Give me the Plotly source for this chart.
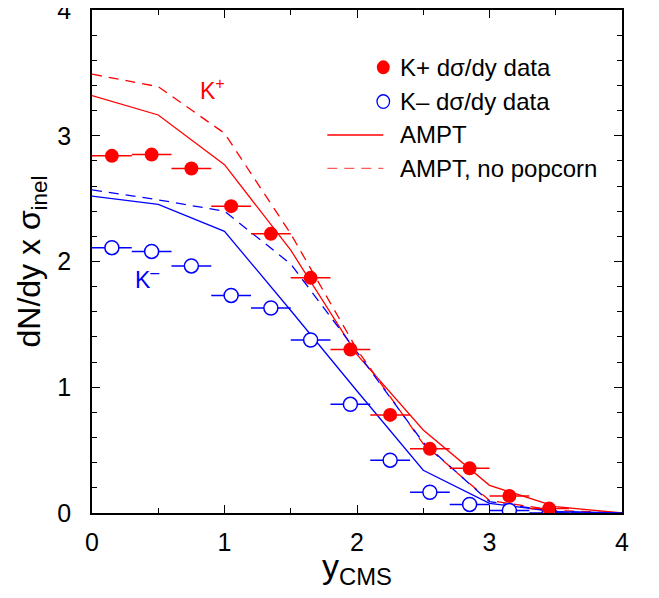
import plotly.graph_objects as go

# ---- data ----
y_bins = [0.15, 0.45, 0.75, 1.05, 1.35, 1.65, 1.95, 2.25, 2.55, 2.85, 3.15, 3.45]
bin_halfwidth = [0.15] * 12
kplus_data = [2.84, 2.85, 2.74, 2.44, 2.22, 1.87, 1.30, 0.78, 0.51, 0.355, 0.135, 0.035]
kminus_data = [2.11, 2.08, 1.965, 1.73, 1.63, 1.376, 0.864, 0.42, 0.165, 0.068, 0.02, 0.0]

y_model = [0.0, 0.5, 1.0, 1.5, 2.0, 2.5, 3.0, 3.5, 4.0]
ampt_kplus = [3.32, 3.165, 2.77, 2.09, 1.26, 0.66, 0.22, 0.05, 0.0]
ampt_nopop_kplus = [3.49, 3.39, 3.02, 2.22, 1.30, 0.55, 0.10, 0.02, 0.0]
ampt_kminus = [2.52, 2.455, 2.24, 1.61, 0.97, 0.34, 0.077, 0.01, 0.0]
ampt_nopop_kminus = [2.57, 2.49, 2.40, 1.98, 1.28, 0.56, 0.09, 0.01, 0.0]

x_ticks = [0, 1, 2, 3, 4]
y_ticks = [0, 1, 2, 3, 4]

RED = "#ff0000"
BLUE = "#0000ff"
FONT = "Liberation Sans, Arial, Helvetica, sans-serif"
DASH = "10px,7px"

fig = go.Figure()

fig.add_trace(go.Scatter(x=y_model, y=ampt_kplus, mode="lines", name="AMPT",
                         line=dict(color=RED, width=1.3), showlegend=False))
fig.add_trace(go.Scatter(x=y_model, y=ampt_nopop_kplus, mode="lines", name="AMPT, no popcorn",
                         line=dict(color=RED, width=1.3, dash=DASH), showlegend=False))
fig.add_trace(go.Scatter(x=y_model, y=ampt_kminus, mode="lines", name="AMPT K-",
                         line=dict(color=BLUE, width=1.3), showlegend=False))
fig.add_trace(go.Scatter(x=y_model, y=ampt_nopop_kminus, mode="lines", name="AMPT no popcorn K-",
                         line=dict(color=BLUE, width=1.3, dash=DASH), showlegend=False))

fig.add_trace(go.Scatter(x=y_bins, y=kminus_data, mode="markers", name="K\u2212 d\u03c3/dy data",
                         marker=dict(symbol="circle", size=14, color="white",
                                     line=dict(color=BLUE, width=1.5)),
                         error_x=dict(type="data", array=bin_halfwidth, color=BLUE,
                                      thickness=1.5, width=0),
                         showlegend=False))
fig.add_trace(go.Scatter(x=y_bins, y=kplus_data, mode="markers", name="K+ d\u03c3/dy data",
                         marker=dict(symbol="circle", size=14, color=RED,
                                     line=dict(color=RED, width=0)),
                         error_x=dict(type="data", array=bin_halfwidth, color=RED,
                                      thickness=1.5, width=0),
                         showlegend=False))

# ---- manual legend (paper coordinates) ----
leg_sym_x = 0.5496
leg_text_x = 0.5768
leg_line_x0 = 0.444
leg_rows = [0.886, 0.818, 0.7515, 0.685]
leg_labels = ["K+ d\u03c3/dy data", "K\u2013 d\u03c3/dy data", "AMPT", "AMPT, no popcorn"]

shapes = [
    dict(type="circle", xref="paper", yref="paper", xsizemode="pixel", ysizemode="pixel",
         xanchor=leg_sym_x, yanchor=leg_rows[0], x0=-6.5, x1=6.5, y0=-7, y1=7,
         fillcolor=RED, line=dict(color=RED, width=0)),
    dict(type="circle", xref="paper", yref="paper", xsizemode="pixel", ysizemode="pixel",
         xanchor=leg_sym_x, yanchor=leg_rows[1], x0=-6.3, x1=6.3, y0=-6.8, y1=6.8,
         fillcolor="white", line=dict(color=BLUE, width=1.3)),
    dict(type="line", xref="paper", yref="paper", x0=leg_line_x0, x1=leg_sym_x,
         y0=leg_rows[2], y1=leg_rows[2], line=dict(color=RED, width=1.3)),
    dict(type="line", xref="paper", yref="paper", x0=leg_line_x0, x1=leg_sym_x,
         y0=leg_rows[3], y1=leg_rows[3], line=dict(color="#ff5a5a", width=1.3, dash=DASH)),
]

annotations = []
for yy, lab in zip(leg_rows, leg_labels):
    annotations.append(dict(xref="paper", yref="paper", x=leg_text_x, y=yy, text=lab,
                            showarrow=False, xanchor="left", yanchor="middle",
                            font=dict(family=FONT, size=24, color="black")))

annotations.append(dict(xref="x", yref="y", x=0.80, y=3.37, text="K<sup>+</sup>",
                        showarrow=False, xanchor="left", yanchor="middle",
                        font=dict(family=FONT, size=23, color=RED)))
annotations.append(dict(xref="x", yref="y", x=0.31, y=1.87, text="K<sup>\u2013</sup>",
                        showarrow=False, xanchor="left", yanchor="middle",
                        font=dict(family=FONT, size=23, color=BLUE)))

axis_common = dict(
    range=[0, 4], showgrid=False, zeroline=False, automargin=False,
    showline=True, linecolor="black", linewidth=1.5, mirror="ticks",
    ticks="inside", ticklen=8, tickwidth=1, tickcolor="black",
    ticklabeloverflow="allow",
    tickfont=dict(family=FONT, size=25, color="black"),
)

# the page body adds an 8px margin; the figure is sized so it fits the window
fig.update_layout(
    width=643, height=582,
    margin=dict(l=84, r=29, t=2, b=77),
    plot_bgcolor="white", paper_bgcolor="white",
    shapes=shapes, annotations=annotations,
    xaxis=dict(**axis_common, tickvals=x_ticks, ticktext=[str(v) for v in x_ticks],
               minor=dict(dtick=0.5, ticks="inside", ticklen=5, tickcolor="black", tickwidth=1),
               ticklabelstandoff=6,
               title=dict(text="y<sub>CMS</sub>", font=dict(family=FONT, size=34, color="black"),
                          standoff=0)),
    yaxis=dict(**axis_common, tickvals=y_ticks, ticktext=[str(v) for v in y_ticks],
               minor=dict(dtick=0.2, ticks="inside", ticklen=5, tickcolor="black", tickwidth=1),
               ticklabelstandoff=14,
               title=dict(text="dN/dy x \u03c3<sub>inel</sub>",
                          font=dict(family=FONT, size=32, color="black"), standoff=7)),
)

fig.write_html("out.html")
